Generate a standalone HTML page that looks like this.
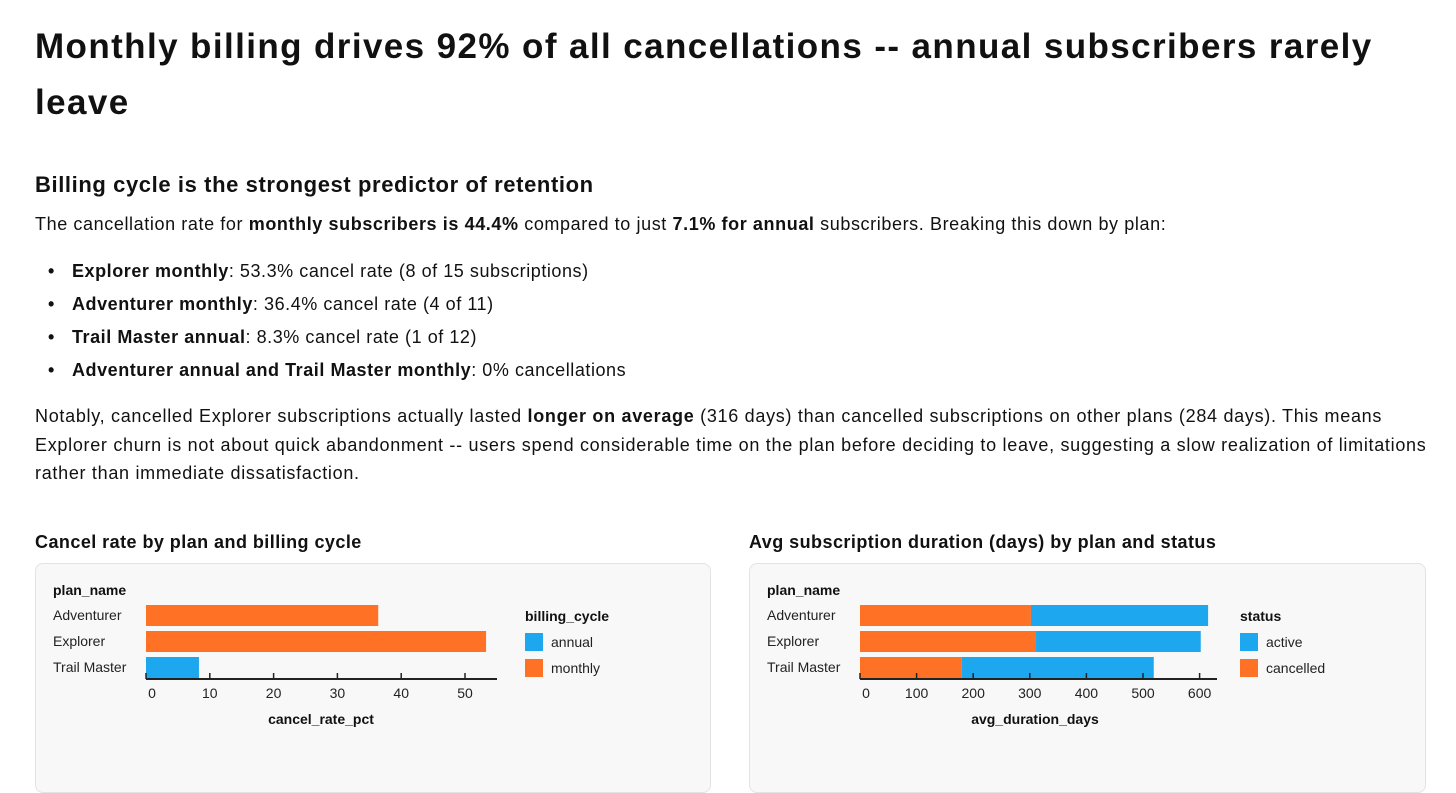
<!DOCTYPE html>
<html><head><meta charset="utf-8">
<style>
*{margin:0;padding:0;box-sizing:border-box}
body{width:1456px;height:778px;overflow:hidden;background:#fff;font-family:"Liberation Sans",sans-serif;color:#111;position:relative}
.a{position:absolute;white-space:nowrap}
h1{font-size:35px;font-weight:700;line-height:56px;letter-spacing:1.4px}
h2{font-size:22px;font-weight:700;letter-spacing:0.6px}
.p{font-size:18px;line-height:28.5px;letter-spacing:0.6px}
.li{font-size:18px;letter-spacing:0.55px}
.li::before{content:"•";position:absolute;left:-24px;font-weight:700}
h3{font-size:18px;font-weight:700;letter-spacing:0.45px}
.card{position:absolute;top:563px;height:230px;background:#f8f8f8;border:1px solid #e3e3e3;border-radius:8px}
svg text{font-family:"Liberation Sans",sans-serif}
</style></head><body>
<h1 class="a" style="left:35px;top:19px">Monthly billing drives 92% of all cancellations -- annual subscribers rarely<br>leave</h1>
<h2 class="a" style="left:35px;top:172px">Billing cycle is the strongest predictor of retention</h2>
<div class="a p" style="left:35px;top:210px">The cancellation rate for <b>monthly subscribers is 44.4%</b> compared to just <b>7.1% for annual</b> subscribers. Breaking this down by plan:</div>
<div class="a li" style="left:72px;top:261px"><b>Explorer monthly</b>: 53.3% cancel rate (8 of 15 subscriptions)</div>
<div class="a li" style="left:72px;top:294px"><b>Adventurer monthly</b>: 36.4% cancel rate (4 of 11)</div>
<div class="a li" style="left:72px;top:327px"><b>Trail Master annual</b>: 8.3% cancel rate (1 of 12)</div>
<div class="a li" style="left:72px;top:360px"><b>Adventurer annual and Trail Master monthly</b>: 0% cancellations</div>
<div class="a p" style="left:35px;top:402px;letter-spacing:0.7px">Notably, cancelled Explorer subscriptions actually lasted <b>longer on average</b> (316 days) than cancelled subscriptions on other plans (284 days). This means<br>Explorer churn is not about quick abandonment -- users spend considerable time on the plan before deciding to leave, suggesting a slow realization of limitations<br>rather than immediate dissatisfaction.</div>
<h3 class="a" style="left:35px;top:532px">Cancel rate by plan and billing cycle</h3>
<h3 class="a" style="left:749px;top:532px">Avg subscription duration (days) by plan and status</h3>
<div class="card" style="left:35px;width:676px"></div>
<div class="card" style="left:749px;width:677px"></div>
<svg id="s" width="1456" height="778" style="position:absolute;left:0;top:0"></svg>
<script>
const plans=["Adventurer","Explorer","Trail Master"];
const c1Cycle=["monthly","monthly","annual"];
const c1Rate=[36.4,53.3,8.3];
const c1Ticks=[0,10,20,30,40,50];
const c2Cancelled=[302,311,180];
const c2Active=[313,291,339];
const c2Ticks=[0,100,200,300,400,500,600];
const BLUE="#1da7ee",ORANGE="#ff7124";
const s=document.getElementById('s');
const NS="http://www.w3.org/2000/svg";
function el(t,a,txt){const e=document.createElementNS(NS,t);for(const k in a)e.setAttribute(k,a[k]);if(txt!==undefined)e.textContent=txt;s.appendChild(e);return e;}
const rowY=[605,631,657],barH=21;
function chart(o){
  const x=v=>o.x0+v*o.k;
  const t=el('text',{x:o.left,y:595,'font-size':14,'font-weight':700,fill:'#111'},'plan_name');
  
  plans.forEach((p,i)=>{const l=el('text',{x:o.left,y:rowY[i]+15,'font-size':14,fill:'#222'},p);
    });
  o.draw(x);
  const ax=el('line',{x1:o.x0,x2:o.axEnd,y1:679,y2:679,stroke:'#222','stroke-width':2});
  
  o.ticks.forEach(v=>{const tk=el('line',{x1:x(v),x2:x(v),y1:673,y2:679,stroke:'#222','stroke-width':1.5});
    
    const tl=el('text',{x:x(v)+(v===0?6:0),y:698,'font-size':14,fill:'#222','text-anchor':'middle'},v);
    });
  const xt=el('text',{x:o.titleX,y:724,'font-size':14,'font-weight':700,fill:'#111','text-anchor':'middle'},o.xtitle);
  
  const lt=el('text',{x:o.legX,y:621,'font-size':14,'font-weight':700,fill:'#111'},o.legTitle);
  
  o.leg.forEach((g,i)=>{const r=el('rect',{x:o.legX,y:633+i*26,width:18,height:18,fill:g[1]});
    
    const tx=el('text',{x:o.legX+26,y:647+i*26,'font-size':14,fill:'#222'},g[0]);
    });
}
chart({id:'chart1',left:53,x0:146,k:6.38,axEnd:497,ticks:c1Ticks,titleX:321,xtitle:'cancel_rate_pct',legX:525,legTitle:'billing_cycle',
  leg:[['annual',BLUE],['monthly',ORANGE]],
  draw:x=>{c1Rate.forEach((v,i)=>{const b=el('rect',{x:x(0),y:rowY[i],width:x(v)-x(0),height:barH,fill:c1Cycle[i]==='annual'?BLUE:ORANGE});
    });}});
chart({id:'chart2',left:767,x0:860,k:0.566,axEnd:1217,ticks:c2Ticks,titleX:1035,xtitle:'avg_duration_days',legX:1240,legTitle:'status',
  leg:[['active',BLUE],['cancelled',ORANGE]],
  draw:x=>{plans.forEach((p,i)=>{
    const c=el('rect',{x:x(0),y:rowY[i],width:x(c2Cancelled[i])-x(0),height:barH,fill:ORANGE});
    
    const a=el('rect',{x:x(c2Cancelled[i]),y:rowY[i],width:x(c2Cancelled[i]+c2Active[i])-x(c2Cancelled[i]),height:barH,fill:BLUE});
    });}});
</script>
</body></html>
